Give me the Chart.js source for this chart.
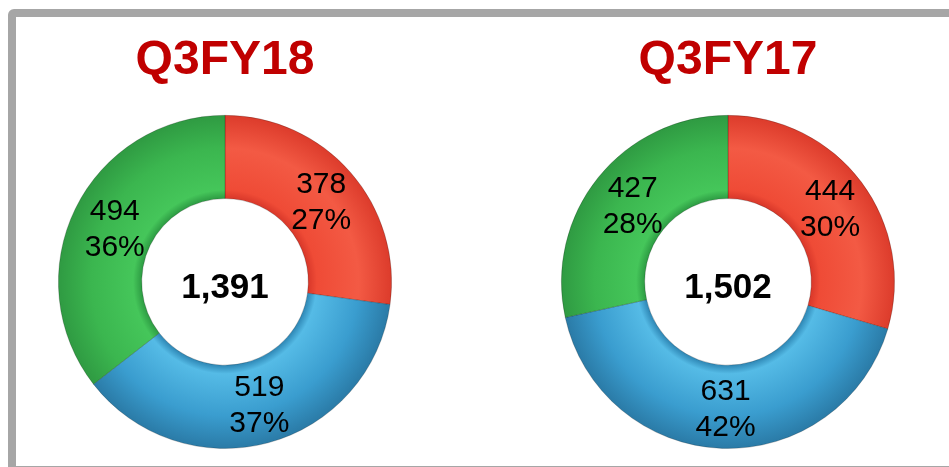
<!DOCTYPE html>
<html>
<head>
<meta charset="utf-8">
<script src="https://cdn.jsdelivr.net/npm/chart.js@4"></script>
<style>
  html, body { margin: 0; padding: 0; background: #fff; overflow: hidden; }
  body { width: 949px; height: 467px; position: relative; font-family: "Liberation Sans", Arial, sans-serif; }
  .frame { position: absolute; left: 8px; top: 9px; width: 1000px; height: 465px; box-sizing: border-box;
           border: 8px solid #a6a6a6; border-radius: 6px; }
  .box { position: absolute; top: 0; width: 400px; height: 467px; }
</style>
</head>
<body>
<div class="frame"></div>
<div class="box" style="left:25px"><canvas id="chart1"></canvas></div>
<div class="box" style="left:528px"><canvas id="chart2"></canvas></div>
<script>
var titles = ["Q3FY18", "Q3FY17"];
var segments = ["Red", "Blue", "Green"];
var valuesFY18 = [378, 519, 494];
var valuesFY17 = [444, 631, 427];
var totals = ["1,391", "1,502"];

var colors = [
  ["#d9382a", "#ef4b36", "#f35a44", "#dc3b2b"],
  ["#2f88b6", "#55bbe6", "#3a9dcf", "#2a7aa6"],
  ["#2e9d44", "#45c65a", "#3bb64f", "#2f9a42"]
];

// dégradé radial pour un effet de relief
function sliceColor(ctx) {
  var chart = ctx.chart;
  var area = chart.chartArea;
  var c = colors[ctx.dataIndex];
  if (!area) return c[2];
  var cx = (area.left + area.right) / 2;
  var cy = (area.top + area.bottom) / 2;
  var r = Math.min(area.right - area.left, area.bottom - area.top) / 2;
  var g = chart.ctx.createRadialGradient(cx, cy, r * 0.5, cx, cy, r);
  g.addColorStop(0, c[0]);
  g.addColorStop(0.1, c[1]);
  g.addColorStop(0.6, c[2]);
  g.addColorStop(1, c[3]);
  return g;
}

// étiquettes valeur + pourcentage et total au centre
var labelPlugin = {
  id: "labels",
  afterDatasetsDraw: function (chart, args, opts) {
    var ctx = chart.ctx;
    var meta = chart.getDatasetMeta(0);
    var data = chart.data.datasets[0].data;
    var sum = data.reduce(function (a, b) { return a + b; }, 0);
    ctx.save();
    ctx.fillStyle = "#000";
    ctx.textAlign = "center";
    ctx.textBaseline = "middle";
    ctx.font = "30px 'Liberation Sans', Arial, sans-serif";
    meta.data.forEach(function (arc, i) {
      var p = arc.tooltipPosition();
      var pct = Math.round(data[i] / sum * 100) + "%";
      ctx.fillText(String(data[i]), p.x + 2, p.y - 15);
      ctx.fillText(pct, p.x + 2, p.y + 21);
    });
    ctx.font = "bold 35px 'Liberation Sans', Arial, sans-serif";
    var a = meta.data[0];
    ctx.fillText(opts.total, a.x, a.y + 6);
    ctx.restore();
  }
};

function makeChart(id, title, values, total) {
  return new Chart(document.getElementById(id), {
    type: "doughnut",
    data: {
      labels: segments,
      datasets: [{
        data: values,
        backgroundColor: sliceColor,
        borderColor: "rgba(0,0,0,0.2)",
        borderWidth: 1
      }]
    },
    options: {
      responsive: true,
      maintainAspectRatio: false,
      animation: false,
      cutout: "50%",
      layout: { padding: { bottom: 18 } },
      plugins: {
        legend: { display: false },
        tooltip: { enabled: false },
        title: {
          display: true,
          text: title,
          color: "#c00000",
          font: { family: "'Liberation Sans', Arial, sans-serif", size: 48, weight: "bold", lineHeight: 1.2 },
          padding: { top: 32, bottom: 25.2 }
        },
        labels: { total: total }
      }
    },
    plugins: [labelPlugin]
  });
}

makeChart("chart1", titles[0], valuesFY18, totals[0]);
makeChart("chart2", titles[1], valuesFY17, totals[1]);
</script>
</body>
</html>
